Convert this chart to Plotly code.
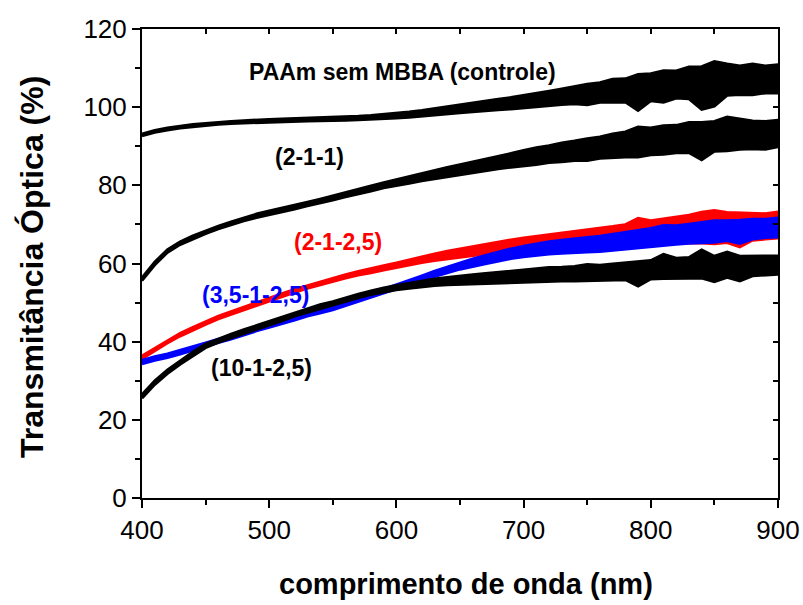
import plotly.graph_objects as go

# wavelength grid (nm)
wl = [400, 410, 420, 430, 440, 450, 460, 470, 480, 490, 500, 510, 520, 530, 540, 550, 560, 570, 580, 590,
      600, 610, 620, 630, 640, 650, 660, 670, 680, 690, 700, 710, 720, 730, 740, 750, 760, 770, 780, 790,
      800, 810, 820, 830, 840, 850, 860, 870, 880, 890, 900]

# PAAm sem MBBA (controle): centre of trace and upper / lower extent of the noise band
ctrl_mid = [92.9, 93.8, 94.4, 94.9, 95.3, 95.6, 95.9, 96.1, 96.3, 96.4, 96.5, 96.6, 96.7, 96.8, 96.9, 97.0, 97.1, 97.2, 97.4, 97.6,
            97.8, 98.1, 98.4, 98.8, 99.2, 99.6, 100.0, 100.4, 100.7, 101.0, 101.4, 101.8, 102.2, 102.6, 103.0, 103.3, 103.7, 104.0, 104.3, 104.6,
            105.0, 105.4, 105.8, 106.1, 106.4, 106.7, 106.8, 106.8, 106.9, 107.0, 107.1]
ctrl_up = [0.3, 0.3, 0.3, 0.3, 0.3, 0.3, 0.3, 0.3, 0.3, 0.4, 0.4, 0.4, 0.4, 0.4, 0.4, 0.4, 0.5, 0.5, 0.5, 0.6, 0.6,
           0.7, 0.8, 0.9, 1.0, 1.1, 1.2, 1.3, 1.4, 1.5, 1.6,
           1.8, 1.9, 2.1, 2.3, 2.6, 2.6, 3.2, 3.0, 3.8, 3.6,
           4.0, 3.5, 4.2, 4.0, 5.0, 4.3, 3.8, 4.2, 3.6, 3.8]
ctrl_dn = [0.3, 0.3, 0.3, 0.3, 0.3, 0.3, 0.3, 0.3, 0.3, 0.4, 0.4, 0.4, 0.4, 0.4, 0.4, 0.4, 0.5, 0.5, 0.5, 0.6, 0.6,
           0.7, 0.8, 0.9, 1.0, 1.1, 1.2, 1.3, 1.4, 1.5, 1.6,
           1.8, 1.9, 2.0, 2.2, 2.7, 2.5, 2.8, 3.0, 5.5, 3.4,
           4.2, 3.5, 4.0, 7.0, 6.5, 3.8, 3.6, 3.8, 3.4, 3.5]

# (2-1-1)
s211_mid = [56.0, 60.0, 63.2, 65.2, 66.7, 68.0, 69.2, 70.3, 71.3, 72.2, 73.0, 73.7, 74.4, 75.2, 76.0, 76.8, 77.6, 78.4, 79.2, 80.0,
            80.7, 81.4, 82.1, 82.8, 83.4, 84.0, 84.6, 85.2, 85.8, 86.4, 87.0, 87.5, 88.0, 88.4, 88.8, 89.2, 89.6, 90.0, 90.4, 90.8,
            91.2, 91.5, 91.8, 92.1, 92.3, 92.5, 92.7, 92.8, 92.9, 93.0, 93.2]
s211_up = [0.4, 0.4, 0.4, 0.4, 0.4, 0.4, 0.4, 0.4, 0.4, 0.5, 0.5, 0.5, 0.5, 0.5, 0.5, 0.6, 0.6, 0.6, 0.7, 0.7, 0.8,
           0.9, 1.0, 1.1, 1.2, 1.3, 1.4, 1.5, 1.6, 1.8, 2.0,
           2.2, 2.2, 2.5, 2.6, 2.8, 2.8, 3.2, 3.3, 4.2, 3.5,
           3.8, 3.6, 4.0, 3.8, 3.9, 4.8, 4.2, 3.6, 3.4, 3.5]
s211_dn = [0.4, 0.4, 0.4, 0.4, 0.4, 0.4, 0.4, 0.4, 0.4, 0.5, 0.5, 0.5, 0.5, 0.5, 0.5, 0.6, 0.6, 0.6, 0.7, 0.7, 0.8,
           0.9, 1.0, 1.1, 1.2, 1.3, 1.4, 1.5, 1.6, 1.8, 2.0,
           2.2, 2.2, 2.4, 2.5, 2.9, 2.7, 3.0, 3.2, 3.6, 3.4,
           3.6, 3.5, 3.8, 5.8, 3.8, 3.9, 3.6, 3.6, 3.8, 3.4]

# (2-1-2,5)  red
s2125_mid = [36.0, 38.0, 40.0, 41.8, 43.3, 44.8, 46.2, 47.3, 48.5, 49.6, 50.7, 51.9, 53.0, 54.0, 55.0, 55.9, 56.7, 57.5, 58.2, 58.9,
             59.6, 60.3, 61.0, 61.6, 62.2, 62.7, 63.2, 63.7, 64.2, 64.6, 65.0, 65.3, 65.6, 65.9, 66.2, 66.4, 66.6, 66.9, 67.2, 67.6,
             68.0, 68.3, 68.6, 68.8, 69.0, 69.2, 69.3, 69.4, 69.5, 69.6, 69.7]
s2125_up = [0.4, 0.4, 0.4, 0.4, 0.4, 0.4, 0.4, 0.4, 0.4, 0.4, 0.4, 0.4, 0.4, 0.4, 0.4, 0.5, 0.5, 0.5, 0.6, 0.6, 0.6,
            0.7, 0.8, 0.9, 1.0, 1.1, 1.2, 1.3, 1.4, 1.5, 1.6,
            1.7, 1.8, 1.9, 2.0, 2.2, 2.4, 2.6, 2.8, 4.0, 3.0,
            3.2, 3.4, 3.6, 4.2, 4.4, 3.8, 3.6, 3.4, 3.2, 3.5]
s2125_dn = [0.4, 0.4, 0.4, 0.4, 0.4, 0.4, 0.4, 0.4, 0.4, 0.4, 0.4, 0.4, 0.4, 0.4, 0.4, 0.5, 0.5, 0.5, 0.6, 0.6, 0.6,
            0.7, 0.8, 0.9, 1.0, 1.1, 1.2, 1.3, 1.4, 1.5, 1.6,
            1.7, 1.8, 1.9, 2.0, 2.1, 2.2, 2.3, 2.5, 2.8, 3.0,
            3.2, 3.4, 3.6, 3.8, 4.2, 4.0, 5.2, 3.6, 3.4, 3.2]

# (3,5-1-2,5)  blue
s3525_mid = [34.8, 35.7, 36.4, 37.3, 38.2, 39.2, 40.2, 41.1, 42.1, 43.2, 44.1, 45.0, 46.0, 47.0, 47.8, 48.6, 49.6, 50.7, 51.8, 52.9,
             54.0, 55.2, 56.3, 57.4, 58.4, 59.4, 60.2, 61.0, 61.8, 62.5, 63.1, 63.6, 64.0, 64.3, 64.6, 64.8, 65.0, 65.4, 65.8, 66.2,
             66.6, 67.0, 67.3, 67.6, 67.9, 68.2, 68.4, 68.6, 68.8, 69.0, 69.2]
s3525_up = [0.5, 0.5, 0.5, 0.5, 0.5, 0.5, 0.5, 0.5, 0.5, 0.5, 0.5, 0.5, 0.5, 0.5, 0.5, 0.5, 0.5, 0.5, 0.5, 0.5, 0.5,
            0.5, 0.6, 0.7, 0.8, 0.9, 1.0, 1.1, 1.2, 1.3, 1.4,
            1.5, 1.6, 1.7, 1.8, 1.9, 2.0, 2.1, 2.2, 2.3, 2.4,
            2.8, 2.4, 2.5, 2.6, 2.8, 2.6, 2.5, 2.6, 2.4, 2.5]
s3525_dn = [0.5, 0.5, 0.5, 0.5, 0.5, 0.5, 0.5, 0.5, 0.5, 0.5, 0.5, 0.5, 0.5, 0.5, 0.5, 0.5, 0.5, 0.5, 0.5, 0.5, 0.5,
            0.5, 0.6, 0.7, 0.8, 0.9, 1.0, 1.1, 1.2, 1.3, 1.4,
            1.5, 1.6, 1.7, 1.8, 1.9, 2.0, 2.1, 2.2, 2.3, 2.4,
            2.4, 2.4, 2.5, 2.6, 2.8, 2.6, 3.5, 2.6, 2.4, 2.5]

# (10-1-2,5)  black
s10125_mid = [26.0, 29.5, 32.3, 34.7, 36.9, 38.9, 40.3, 41.5, 42.6, 43.7, 44.7, 45.8, 47.0, 48.0, 49.0, 49.8, 50.8, 51.7, 52.5, 53.2,
              53.8, 54.3, 54.8, 55.2, 55.5, 55.8, 56.0, 56.2, 56.4, 56.6, 56.8, 57.0, 57.2, 57.3, 57.4, 57.5, 57.6, 57.8, 58.0, 58.2,
              58.4, 58.6, 58.8, 58.9, 59.0, 59.1, 59.2, 59.3, 59.4, 59.5, 59.6]
s10125_up = [0.5, 0.5, 0.5, 0.5, 0.5, 0.5, 0.5, 0.5, 0.5, 0.5, 0.5, 0.5, 0.5, 0.5, 0.5, 0.5, 0.5, 0.5, 0.5, 0.6, 0.6,
             0.7, 0.8, 0.9, 1.0, 1.1, 1.2, 1.3, 1.4, 1.5, 1.6,
             1.7, 1.8, 1.8, 1.9, 2.3, 2.0, 2.1, 2.2, 2.4, 2.4,
             3.8, 2.6, 2.7, 4.5, 2.8, 3.8, 2.6, 2.5, 2.4, 2.4]
s10125_dn = [0.5, 0.5, 0.5, 0.5, 0.5, 0.5, 0.5, 0.5, 0.5, 0.5, 0.5, 0.5, 0.5, 0.5, 0.5, 0.5, 0.5, 0.5, 0.5, 0.6, 0.6,
             0.7, 0.8, 0.9, 1.0, 1.1, 1.2, 1.3, 1.4, 1.5, 1.6,
             1.7, 1.8, 1.8, 1.9, 2.0, 2.0, 2.1, 2.2, 4.0, 2.4,
             2.5, 2.6, 2.7, 2.8, 3.8, 2.8, 3.8, 2.6, 2.5, 2.4]

series = [
    ("PAAm sem MBBA (controle)", ctrl_mid, ctrl_up, ctrl_dn, "#000000"),
    ("(2-1-1)", s211_mid, s211_up, s211_dn, "#000000"),
    ("(2-1-2,5)", s2125_mid, s2125_up, s2125_dn, "#ff0000"),
    ("(3,5-1-2,5)", s3525_mid, s3525_up, s3525_dn, "#0000ff"),
    ("(10-1-2,5)", s10125_mid, s10125_up, s10125_dn, "#000000"),
]

# curve labels (data coordinates)
label_text = ["PAAm sem MBBA (controle)", "(2-1-1)", "(2-1-2,5)", "(3,5-1-2,5)", "(10-1-2,5)"]
label_x = [605, 532, 554, 489, 494]
label_y = [109.0, 87.3, 65.5, 51.9, 33.3]
label_color = ["#000000", "#000000", "#ff0000", "#0000ff", "#000000"]

x_ticks = [400, 500, 600, 700, 800, 900]
y_ticks = [0, 20, 40, 60, 80, 100, 120]

fig = go.Figure()
for name, mid, up, dn, col in series:
    hi = [m + u for m, u in zip(mid, up)]
    lo = [m - d for m, d in zip(mid, dn)]
    fig.add_trace(go.Scatter(
        x=wl + wl[::-1], y=hi + lo[::-1], mode="lines", fill="toself",
        fillcolor=col, line=dict(color=col, width=2.6), name=name,
        showlegend=False, hoverinfo="skip"))

# placeholder trace so the mirrored top/right axes are drawn
fig.add_trace(go.Scatter(x=[None], y=[None], xaxis="x2", yaxis="y2", showlegend=False))

font_family = "Liberation Sans, Arial, sans-serif"
for t, x, y, c in zip(label_text, label_x, label_y, label_color):
    fig.add_annotation(x=x, y=y, text="<b>%s</b>" % t, showarrow=False,
                       font=dict(family=font_family, size=23, color=c))

fig.add_annotation(xref="paper", yref="paper", x=0.509, y=-0.183, yanchor="middle", xanchor="center",
                   text="<b>comprimento de onda (nm)</b>", showarrow=False,
                   font=dict(family=font_family, size=29, color="black"))
fig.add_annotation(xref="paper", yref="paper", x=-0.173, y=0.4925, xanchor="center", yanchor="middle",
                   text="<b>Transmitância Óptica (%)</b>", showarrow=False, textangle=-90,
                   font=dict(family=font_family, size=32, color="black"))

axis_common = dict(showgrid=False, zeroline=False, showline=True, linecolor="black", linewidth=2,
                   tickcolor="black", tickwidth=1.5, automargin=False)
fig.update_layout(
    width=803, height=605,
    margin=dict(l=142, r=25, t=29, b=107),
    plot_bgcolor="white", paper_bgcolor="white",
    font=dict(family=font_family, color="black"),
    xaxis=dict(range=[400, 900], tickmode="array", tickvals=x_ticks, ticks="outside", ticklen=8,
               tickfont=dict(size=26), minor=dict(dtick=50, ticks="outside", ticklen=5,
                                                   tickcolor="black", tickwidth=1.5),
               **axis_common),
    yaxis=dict(range=[0, 120], tickmode="array", tickvals=y_ticks, ticks="outside", ticklen=8,
               tickfont=dict(size=26), minor=dict(dtick=10, ticks="outside", ticklen=5,
                                                   tickcolor="black", tickwidth=1.5),
               **axis_common),
    xaxis2=dict(range=[400, 900], overlaying="x", side="top", dtick=50, tick0=400, ticks="inside",
                ticklen=5, showticklabels=False, **axis_common),
    yaxis2=dict(range=[0, 120], overlaying="y", side="right", dtick=10, tick0=0, ticks="inside",
                ticklen=5, showticklabels=False, **axis_common),
)

fig.write_html("out.html")
